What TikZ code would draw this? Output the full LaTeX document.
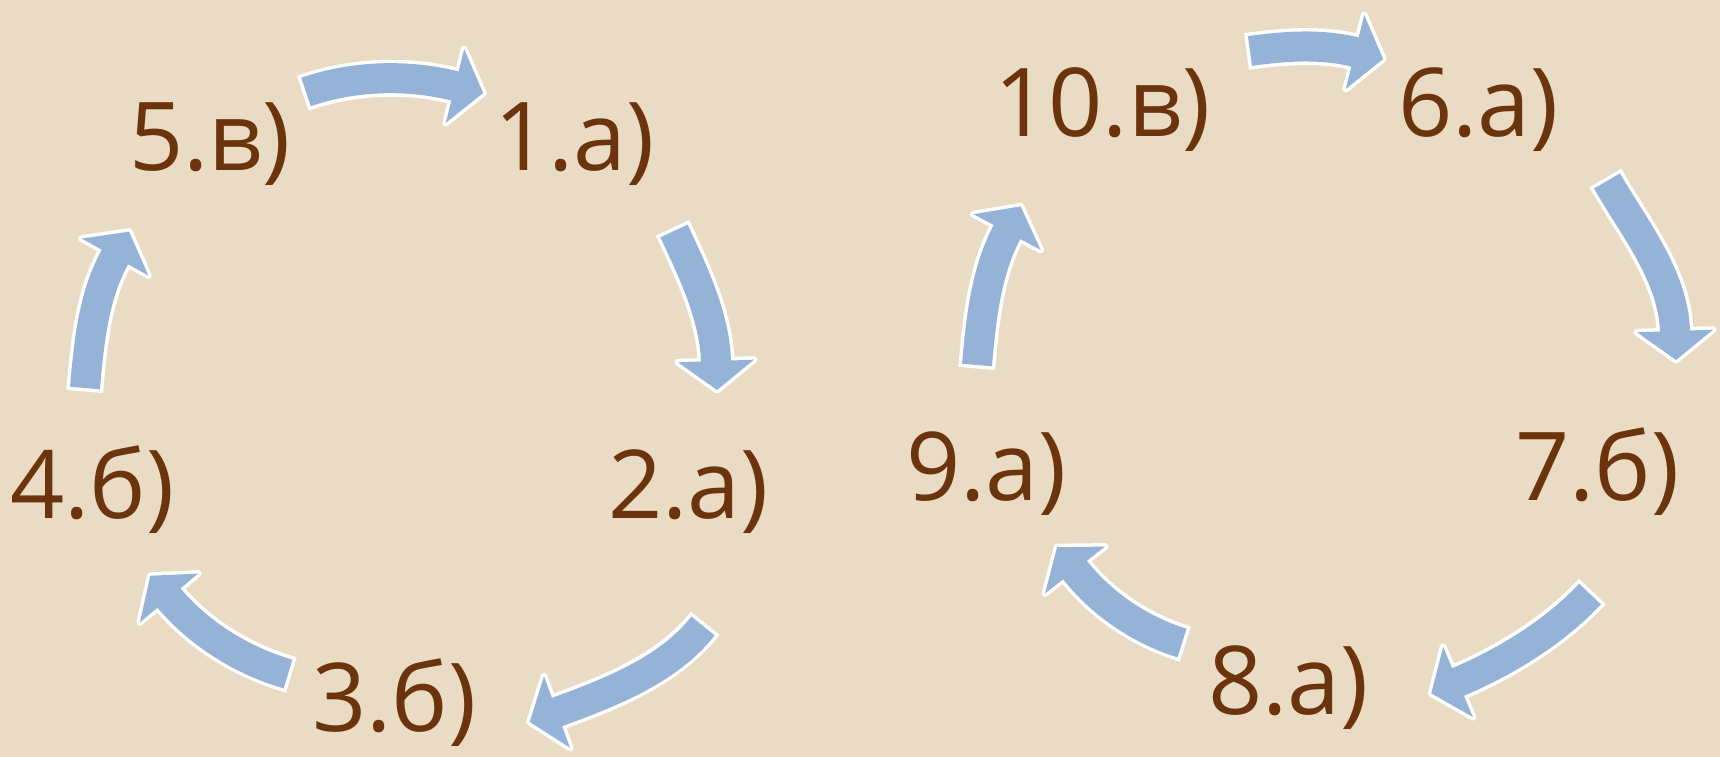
\documentclass[tikz,border=0pt]{standalone}
\usepackage{fontspec}
\setmainfont{Open Sans}
\usetikzlibrary{calc}
\definecolor{bg}{RGB}{234,220,196}
\definecolor{txt}{RGB}{108,52,12}
\definecolor{arr}{RGB}{149,179,215}
\newcommand{\blockarrow}[7]{%
 \coordinate (#1t) at (#2);
 \coordinate (#1m) at (#5);
 \coordinate (#1c1) at ($(#1t)+(#3:#4)$);
 \coordinate (#1c2) at ($(#1m)+(#6+180:#7)$);
 \coordinate (#1e) at ($(#1m)+(#6:5)$);
 \coordinate (#1a) at ($(#1m)+(#6:29)$);
 \coordinate (#1l) at ($(#1m)+(#6+90:38)$);
 \coordinate (#1r) at ($(#1m)+(#6-90:38)$);
 \draw[white, line width=37pt, shorten <=-3.5pt] (#1t) .. controls (#1c1) and (#1c2) .. (#1m);
 \draw[white, line width=7pt, line join=round, fill=white] (#1l) -- (#1a) -- (#1r) -- cycle;
 \draw[arr, line width=30pt] (#1t) .. controls (#1c1) and (#1c2) .. (#1m) -- (#1e);
 \fill[arr] (#1l) -- (#1a) -- (#1r) -- cycle;
}
\tikzset{lbl/.style={anchor=base west, inner sep=0pt, text=txt, font=\fontsize{95}{100}\selectfont}}
\begin{document}
\begin{tikzpicture}[x=1pt,y=-1pt]
\fill[bg] (0,0) rectangle (1720,757);
\useasboundingbox (0,0) rectangle (1720,757);
% labels
\node[lbl] (n5) at (129,170) {5.в)};
\node[lbl] (n1) at (494,170) {1.а)};
\node[lbl] (n2) at (608,518) {2.а)};
\node[lbl] (n3) at (312,731) {3.б)};
\node[lbl] (n4) at (10,518) {4.б)};
\node[lbl] (n10) at (994,136) {10.в)};
\node[lbl] (n6) at (1398,136) {6.а)};
\node[lbl] (n7) at (1515,500) {7.б)};
\node[lbl] (n8) at (1208,714) {8.а)};
\node[lbl] (n9) at (906,500) {9.а)};
% arrows
\blockarrow{A}{306,92}{-19}{50}{455,86}{14}{50}
\blockarrow{B}{674,231}{65}{45}{716,361}{88}{45}
\blockarrow{C}{703,626}{128}{56}{557,712}{160}{56}
\blockarrow{D}{288,674}{196}{47}{169,598}{230}{47}
\blockarrow{E}{85,388}{-85}{45}{115,257}{-61}{45}
\blockarrow{F}{1250,51}{-8}{35}{1355,52}{14}{35}
\blockarrow{G}{1607,181}{60}{55}{1675,331}{88}{55}
\blockarrow{H}{1590,594}{133}{52}{1458,682}{157}{52}
\blockarrow{I}{1182,643}{197}{43}{1075,570}{232}{43}
\blockarrow{J}{977,365}{-85}{45}{1007,232}{-62}{45}
\end{tikzpicture}
\end{document}
